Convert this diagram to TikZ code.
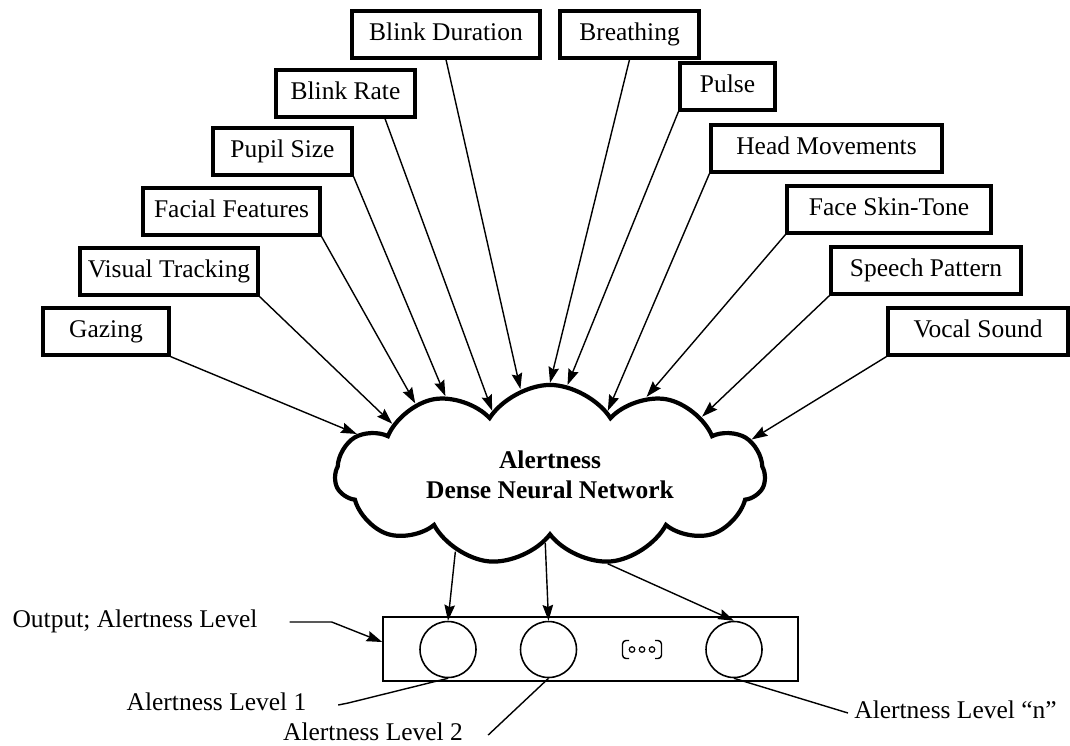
\documentclass[tikz,border=0pt]{standalone}
\usepackage{fontspec}
\setmainfont{Liberation Serif}
\usetikzlibrary{positioning,shapes.symbols,arrows.meta}

\begin{document}
\begin{tikzpicture}[x=0.02cm,y=-0.02cm,
font=\fontsize{14.5pt}{17pt}\selectfont,
feat/.style={draw,rectangle,line width=1.8pt,minimum height=0.94cm,inner sep=0pt,
  text height=0.66em,text depth=0em},
lvl/.style={draw,circle,line width=0.9pt,minimum size=1.12cm,inner sep=0pt},
txt/.style={inner sep=0pt,text height=0.66em,text depth=0em},
feed/.style={line width=0.8pt,-{Stealth[length=9pt,width=6pt,inset=1.2pt]}},
pin/.style={line width=0.8pt}]
\useasboundingbox (0,0) rectangle (1070,745);

% the network
\node (dnn) [cloud,draw,line width=2.4pt,cloud puffs=11,cloud puff arc=115,aspect=2.85,
    minimum width=8.6cm,minimum height=3.0cm,font=\fontsize{14.5pt}{17pt}\selectfont\bfseries,
    align=center] at (550,475) {Alertness\\Dense Neural Network};

% input features
\node (gaze) [feat,minimum width=2.52cm] at (106,331.5) {Gazing};
\node (vistrack) [feat,minimum width=3.56cm] at (169,271.5) {Visual Tracking};
\node (facial) [feat,minimum width=3.54cm] at (231.5,211.5) {Facial Features};
\node (pupil) [feat,minimum width=2.78cm] at (282.5,151.5) {Pupil Size};
\node (blinkrate) [feat,minimum width=2.78cm] at (345.5,93.5) {Blink Rate};
\node (blinkdur) [feat,minimum width=3.76cm] at (446,34.5) {Blink Duration};
\node (breath) [feat,minimum width=2.78cm] at (629.5,34.5) {Breathing};
\node (pulse) [feat,minimum width=1.9cm] at (727.5,86.5) {Pulse};
\node (head) [feat,minimum width=4.62cm] at (826.5,148.5) {Head Movements};
\node (skin) [feat,minimum width=4.08cm] at (889,209.5) {Face Skin-Tone};
\node (speech) [feat,minimum width=3.8cm] at (926,270.5) {Speech Pattern};
\node (vocal) [feat,minimum width=3.6cm] at (978,331.5) {Vocal Sound};

\draw[feed] (gaze.south east) -- (dnn.168);
\draw[feed] (vistrack.south east) -- (dnn.162);
\draw[feed] (facial.south east) -- (dnn.152);
\draw[feed] (pupil.south east) -- (dnn.143);
\draw[feed] ([xshift=0.79cm]blinkrate.south) -- (dnn.132);
\draw[feed] (blinkdur.south) -- (dnn.109);
\draw[feed] (breath.south) -- (dnn.90);
\draw[feed] (pulse.south west) -- (dnn.79);
\draw[feed] (head.south west) -- (dnn.48);
\draw[feed] (skin.south west) -- (dnn.39);
\draw[feed] (speech.south west) -- (dnn.21);
\draw[feed] (vocal.south west) -- (dnn.10);

% output layer
\node (outbox) [draw,rectangle,line width=0.9pt,minimum width=8.3cm,minimum height=1.28cm]
    at (590.5,649) {};
\node (lv1) [lvl] at (448,649.5) {};
\node (lv2) [lvl] at (548.5,649.5) {};
\node (lvn) [lvl] at (734,649.5) {};
\draw[line width=0.8pt,rounded corners=2pt] (629,640.5) -- (622.5,640.5) -- (622.5,658.5) -- (629,658.5);
\draw[line width=0.8pt,rounded corners=2pt] (655,640.5) -- (661.5,640.5) -- (661.5,658.5) -- (655,658.5);
\foreach \x in {632,642,652}
  \draw[line width=0.7pt] (\x,649.5) circle (0.055cm);

\draw[feed] (dnn.219) -- (lv1.north);
\draw[feed] (dnn.266) -- (lv2.north);
\draw[feed] (dnn.303) -- (lvn.north);

% labels
\node (outlbl) [txt] at (135,622) {Output; Alertness Level};
\node (lbl1) [txt] at (216.5,705) {Alertness Level 1};
\node (lbl2) [txt] at (373,735) {Alertness Level 2};
\node (lbln) [txt] at (955.5,713) {Alertness Level “n”};
\draw[feed] ([xshift=0.64cm]outlbl.east) -- ++(42,0) -- ([yshift=0.14cm]outbox.west);
\draw[pin] ([xshift=0.63cm]lbl1.east) -- ++(10,-2) -- (lv1.south);
\draw[pin] ([xshift=0.5cm]lbl2.east) -- (lv2.south);
\draw[pin] (lvn.south) -- ([xshift=-0.12cm]lbln.west);
\end{tikzpicture}
\end{document}
